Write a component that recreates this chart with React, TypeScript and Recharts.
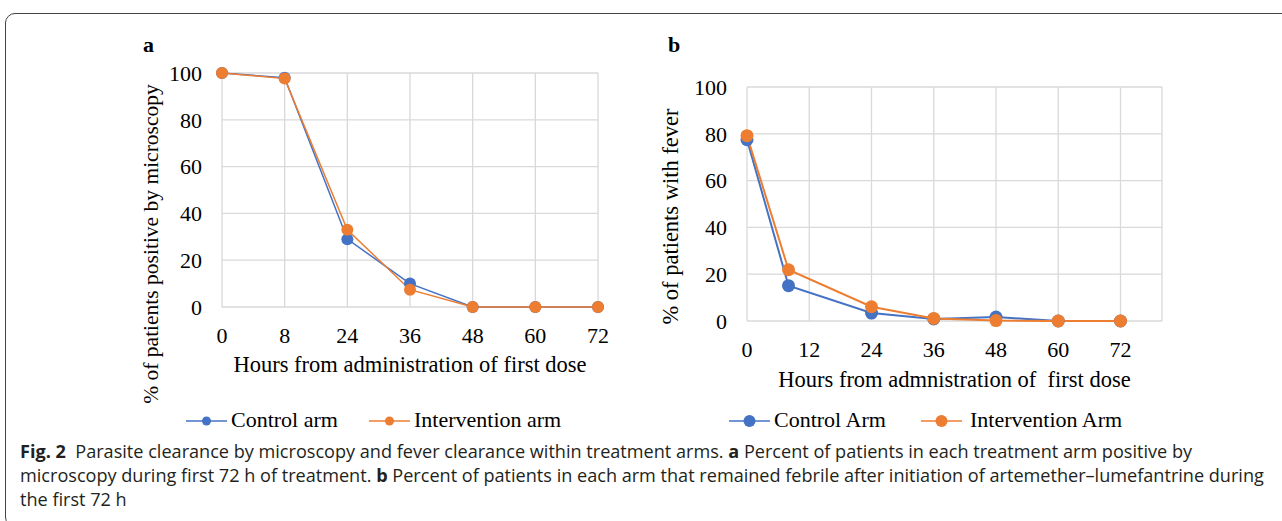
import React from "react";
import { LineChart, Line, XAxis, YAxis, CartesianGrid } from "recharts";

// panel a: hours are plotted as evenly spaced categories
const hoursA = ["0", "8", "24", "36", "48", "60", "72"];
const controlA = [100, 98, 29, 10, 0, 0, 0];
const interventionA = [100, 97.6, 33, 7.4, 0, 0, 0];

// panel b: hours on a numeric axis
const hoursB = [0, 8, 24, 36, 48, 60, 72];
const controlB = [77.5, 15.1, 3.4, 0.9, 1.7, 0, 0];
const interventionB = [79.2, 21.9, 6.1, 1.1, 0.2, 0, 0];

const yTicks = [0, 20, 40, 60, 80, 100];
const xTicksB = [0, 12, 24, 36, 48, 60, 72];

const BLUE = "#4472C4";
const ORANGE = "#ED7D31";
const GRID = "#d9d9d9";
const SERIF = "'Liberation Serif', 'Times New Roman', serif";
const SANS = "'Open Sans', Lato, sans-serif";

const dataA = hoursA.map((h, i) => ({
  hour: h,
  control: controlA[i],
  intervention: interventionA[i]
}));

const dataB = hoursB.map((h, i) => ({
  hour: h,
  control: controlB[i],
  intervention: interventionB[i]
}));

// serif tick text, positioned by the axis
const SerifTick = (props: any) => {
  const { x, y, payload, textAnchor, verticalAnchor } = props;
  const dy = verticalAnchor === "start" ? "0.71em" : verticalAnchor === "middle" ? "0.355em" : 0;
  return (
    <text
      x={x}
      y={y}
      dy={dy}
      textAnchor={textAnchor}
      style={{ fontFamily: SERIF, fontSize: 22, fill: "#000" }}
    >
      {payload.value}
    </text>
  );
};

const axisTitle = (x: number, y: number, text: string, rotate = false, size = 22.5) => () =>
  (
    <text
      x={x}
      y={y}
      textAnchor="middle"
      transform={rotate ? `rotate(-90, ${x}, ${y})` : undefined}
      style={{ fontFamily: SERIF, fontSize: size, fill: "#000", whiteSpace: "pre" }}
    >
      {text}
    </text>
  );

const LegendItem = ({
  x,
  color,
  r,
  label,
  gap = 45
}: {
  x: number;
  color: string;
  r: number;
  label: string;
  gap?: number;
}) => (
  <g>
    <line x1={x} x2={x + 41} y1={421} y2={421} stroke={color} strokeWidth={1.5} />
    <circle cx={x + 20.5} cy={421} r={r} fill={color} />
    <text x={x + gap} y={427} style={{ fontFamily: SERIF, fontSize: 22, fill: "#000" }}>
      {label}
    </text>
  </g>
);

const ChartA = () => (
  <LineChart width={640} height={410} data={dataA} margin={{ top: 73, right: 42, bottom: 43, left: 0 }}>
    <CartesianGrid stroke={GRID} strokeWidth={1.3} />
    <XAxis
      dataKey="hour"
      interval={0}
      axisLine={false}
      tickLine={false}
      tickMargin={14}
      height={60}
      tick={<SerifTick />}
      label={axisTitle(410, 372, "Hours from administration of first dose")}
    />
    <YAxis
      domain={[0, 100]}
      ticks={yTicks}
      width={222}
      axisLine={false}
      tickLine={false}
      tickMargin={14}
      tick={<SerifTick />}
      label={axisTitle(158, 244, "% of patients positive by microscopy", true, 21.5)}
    />
    <Line
      dataKey="control"
      stroke={BLUE}
      strokeWidth={1.5}
      dot={{ r: 6, fill: BLUE, stroke: BLUE, strokeWidth: 0 }}
      isAnimationActive={false}
    />
    <Line
      dataKey="intervention"
      stroke={ORANGE}
      strokeWidth={1.5}
      dot={{ r: 6, fill: ORANGE, stroke: ORANGE, strokeWidth: 0 }}
      isAnimationActive={false}
    />
  </LineChart>
);

const ChartB = () => (
  <LineChart width={642} height={400} data={dataB} margin={{ top: 87, right: 120, bottom: 19, left: 0 }}>
    <CartesianGrid stroke={GRID} strokeWidth={1.3} />
    <XAxis
      dataKey="hour"
      type="number"
      domain={[0, 80]}
      ticks={xTicksB}
      axisLine={false}
      tickLine={false}
      tickMargin={14}
      height={60}
      tick={<SerifTick />}
      label={axisTitle(314.5, 387, "Hours from admnistration of  first dose")}
    />
    <YAxis
      domain={[0, 100]}
      ticks={yTicks}
      width={107}
      axisLine={false}
      tickLine={false}
      tickMargin={14}
      tick={<SerifTick />}
      label={axisTitle(38, 216.5, "% of patients with fever", true)}
    />
    <Line
      dataKey="control"
      stroke={BLUE}
      strokeWidth={2}
      dot={{ r: 6.5, fill: BLUE, stroke: BLUE, strokeWidth: 0 }}
      isAnimationActive={false}
    />
    <Line
      dataKey="intervention"
      stroke={ORANGE}
      strokeWidth={2}
      dot={{ r: 6.5, fill: ORANGE, stroke: ORANGE, strokeWidth: 0 }}
      isAnimationActive={false}
    />
  </LineChart>
);

const captionLine: React.CSSProperties = {
  position: "absolute",
  left: 20,
  whiteSpace: "nowrap",
  fontFamily: SANS,
  fontSize: 18.1,
  lineHeight: "24px",
  color: "#231f20"
};

export default function App() {
  return (
    <div
      style={{
        position: "absolute",
        left: 0,
        top: 0,
        width: 1282,
        height: 521,
        overflow: "hidden",
        background: "#fff",
        fontFamily: SERIF
      }}
    >
      {/* figure frame */}
      <div
        style={{
          position: "absolute",
          left: 5,
          top: 13,
          width: 1300,
          height: 512,
          border: "1px solid #444",
          borderRadius: 10
        }}
      />
      <div style={{ position: "absolute", left: 0, top: 0 }}>
        <ChartA />
      </div>
      <div style={{ position: "absolute", left: 640, top: 0 }}>
        <ChartB />
      </div>
      <svg
        width={1282}
        height={521}
        style={{ position: "absolute", left: 0, top: 0, pointerEvents: "none" }}
      >
        <text x={143} y={52} style={{ fontFamily: SERIF, fontSize: 22, fontWeight: "bold" }}>
          a
        </text>
        <text x={668} y={52} style={{ fontFamily: SERIF, fontSize: 22, fontWeight: "bold" }}>
          b
        </text>
        <LegendItem x={186} color={BLUE} r={4.5} label="Control arm" />
        <LegendItem x={369} color={ORANGE} r={4.5} label="Intervention arm" />
        <LegendItem x={729} color={BLUE} r={6} label="Control Arm" />
        <LegendItem x={921} color={ORANGE} r={6} label="Intervention Arm" gap={49} />
      </svg>
      <div style={{ ...captionLine, top: 439 }}>
        <b>Fig. 2</b>&nbsp; Parasite clearance by microscopy and fever clearance within treatment arms. <b>a</b>{" "}
        Percent of patients in each treatment arm positive by
      </div>
      <div style={{ ...captionLine, top: 463 }}>
        microscopy during first 72 h of treatment. <b>b</b> Percent of patients in each arm that remained febrile
        after initiation of artemether–lumefantrine during
      </div>
      <div style={{ ...captionLine, top: 487 }}>the first 72 h</div>
    </div>
  );
}
